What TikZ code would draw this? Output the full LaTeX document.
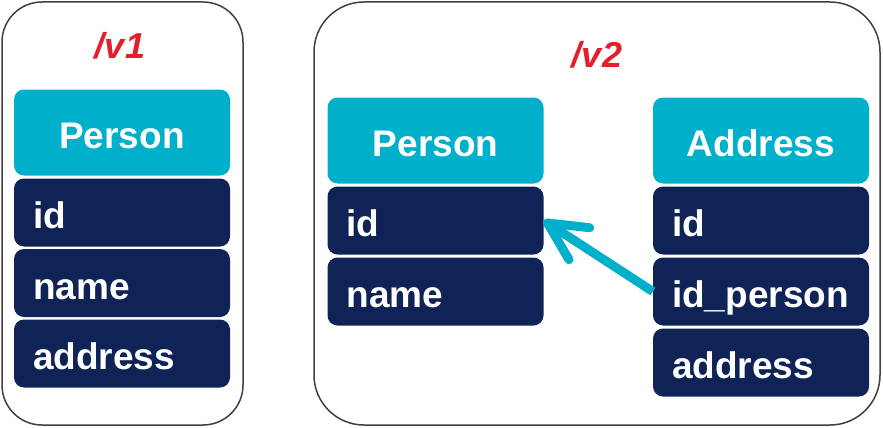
\documentclass[tikz,border=0pt]{standalone}
\usepackage{fontspec}
\setmainfont{Liberation Sans}
\usetikzlibrary{arrows.meta}
\definecolor{hdrcyan}{HTML}{00B0CB}
\definecolor{rownavy}{HTML}{0F2357}
\definecolor{verred}{HTML}{E31E2D}
\definecolor{framegray}{HTML}{404040}
\begin{document}
\begin{tikzpicture}[x=1pt,y=-1pt,
  frame/.style={draw=framegray,line width=1.5pt,rounded corners=#1},
  cell/.style={rounded corners=10pt,inner xsep=19pt,inner ysep=0pt,
    text width=178pt,text height=32pt,text depth=0pt,text=white,
    font=\bfseries\fontsize{37}{40}\selectfont},
  hdr/.style={cell,fill=hdrcyan,minimum height=86pt,align=center},
  fld/.style={cell,fill=rownavy,minimum height=68pt,align=left},
  ver/.style={text=verred,font=\bfseries\itshape\fontsize{36}{40}\selectfont,
    anchor=base,inner sep=0pt},
  link/.style={draw=hdrcyan,line width=9pt,
    -{Straight Barb[length=38pt,width=38pt,round]}}]
\useasboundingbox (0,0) rectangle (883,428);
% left frame
\draw[frame=40pt] (2,2) rectangle (243,425);
\node[ver] (v1) at (120,59) {/v1};
\node[hdr] (lp) at (122,132.5) {Person};
\node[fld] (lid) at (122,212.5) {id};
\node[fld] (lname) at (122,283) {name};
\node[fld] (laddr) at (122,353.5) {address};
% right frame
\draw[frame=50pt] (314,2) rectangle (880,425);
\node[ver] (v2) at (597,67) {/v2};
\node[hdr] (rp) at (435.5,140.5) {Person};
\node[fld] (pid) at (435.5,220.5) {id};
\node[fld] (pname) at (435.5,291.5) {name};
\node[hdr] (ra) at (761,140.5) {Address};
\node[fld] (aid) at (761,220.5) {id};
\node[fld] (idp) at (761,291.5) {id\_person};
\node[fld] (aaddr) at (761,362.5) {address};
\draw[link] (idp.west) -- (pid.east);
\end{tikzpicture}
\end{document}
